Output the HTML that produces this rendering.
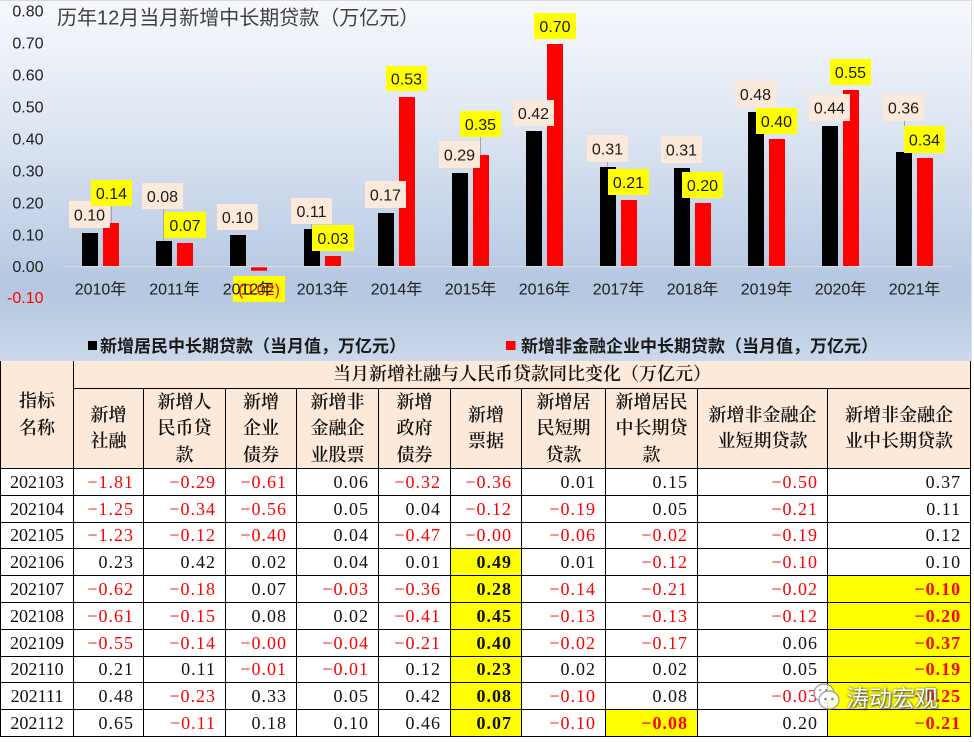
<!DOCTYPE html>
<html>
<head>
<meta charset="utf-8">
<style>
  html,body{margin:0;padding:0;background:#fff;}
  body{width:974px;height:742px;position:relative;overflow:hidden;}
  svg.chart{position:absolute;left:0;top:0;}
  table{position:absolute;left:0;top:361px;border-collapse:collapse;table-layout:fixed;width:970px;}
  td{border:1px solid #000;padding:0 9px 0 0;text-align:right;font-family:"Liberation Serif","Noto Serif CJK SC",serif;font-size:18px;letter-spacing:1px;color:#111;white-space:nowrap;overflow:hidden;height:25.8px;line-height:20px;}
  td.hd{background:#fde9d9;text-align:center;padding:0;font-family:"Liberation Serif","Noto Serif CJK SC",serif;font-weight:600;letter-spacing:0;line-height:26.5px;color:#111;}
  tr.top td{border-top:none;}
  td.dt{text-align:center;padding:0;letter-spacing:0;}
  .r{color:#ff0000;}
  .b{font-weight:bold;}
  .y{background:#ffff00;}
  .wm{position:absolute;left:846px;top:681px;font-family:"Noto Sans CJK SC","WenQuanYi Zen Hei",sans-serif;font-size:23px;line-height:30px;color:#fff;text-shadow:0 0 2px #555,1px 1px 2px #444;letter-spacing:0px;}
  svg.icon{position:absolute;left:812px;top:680px;}
</style>
</head>
<body>
<svg class="chart" width="974" height="361" viewBox="0 0 974 361" xmlns="http://www.w3.org/2000/svg">
  <defs>
    <linearGradient id="bg" x1="0" y1="0" x2="0" y2="1">
      <stop offset="0" stop-color="#f6f8fc"/>
      <stop offset="0.3" stop-color="#e2e9f4"/>
      <stop offset="0.55" stop-color="#cbd8eb"/>
      <stop offset="0.8" stop-color="#b4c7e1"/>
      <stop offset="1" stop-color="#cbd8ea"/>
    </linearGradient>
  </defs>
  <rect x="0" y="0" width="971" height="361" fill="url(#bg)"/>
  <line x1="0" y1="0.5" x2="971" y2="0.5" stroke="#d9d9d9" stroke-width="1"/>
  <line x1="971.5" y1="0" x2="971.5" y2="361" stroke="#e0e0e0" stroke-width="1"/>

  <text x="57" y="24.5" font-family="Liberation Sans, Noto Sans CJK SC, sans-serif" font-size="20" fill="#404040">历年12月当月新增中长期贷款（万亿元）</text>

  <g font-family="Liberation Sans, sans-serif" font-size="16" fill="#1f1f1f" text-anchor="end">
    <text x="43.5" y="16.5">0.80</text>
    <text x="43.5" y="48.5">0.70</text>
    <text x="43.5" y="80.5">0.60</text>
    <text x="43.5" y="112.5">0.50</text>
    <text x="43.5" y="144.5">0.40</text>
    <text x="43.5" y="176.5">0.30</text>
    <text x="43.5" y="208.5">0.20</text>
    <text x="43.5" y="240.5">0.10</text>
    <text x="43.5" y="272">0.00</text>
    <text x="43.5" y="303" fill="#ff0000">-0.10</text>
  </g>

  <g fill="#000">
    <rect x="82" y="233" width="16" height="33"/>
    <rect x="156" y="241" width="16" height="25"/>
    <rect x="230" y="235" width="16" height="31"/>
    <rect x="304" y="229" width="16" height="37"/>
    <rect x="378" y="213" width="16" height="53"/>
    <rect x="452" y="173" width="16" height="93"/>
    <rect x="526" y="131" width="16" height="135"/>
    <rect x="600" y="167" width="16" height="99"/>
    <rect x="674" y="168" width="16" height="98"/>
    <rect x="748" y="112" width="16" height="154"/>
    <rect x="822" y="126" width="16" height="140"/>
    <rect x="896" y="152" width="16" height="114"/>
  </g>
  <g fill="#ff0000">
    <rect x="103" y="223" width="16" height="43"/>
    <rect x="177" y="243" width="16" height="23"/>
    <rect x="251" y="266" width="16" height="4.7"/>
    <rect x="325" y="256" width="16" height="10"/>
    <rect x="399" y="97" width="16" height="169"/>
    <rect x="473" y="155" width="16" height="111"/>
    <rect x="547" y="44" width="16" height="222"/>
    <rect x="621" y="200" width="16" height="66"/>
    <rect x="695" y="203" width="16" height="63"/>
    <rect x="769" y="139" width="16" height="127"/>
    <rect x="843" y="90" width="16" height="176"/>
    <rect x="917" y="158" width="16" height="108"/>
  </g>

  <rect x="63" y="266" width="888" height="1.3" fill="#d9d9d9"/>

  <g stroke="#a6a6a6" stroke-width="1">
    <line x1="111.5" y1="206" x2="111.5" y2="223"/>
    <line x1="163.5" y1="209" x2="163.5" y2="241"/>
    <line x1="311.5" y1="224" x2="311.5" y2="229"/>
    <line x1="480.5" y1="137" x2="480.5" y2="155"/>
    <line x1="607.5" y1="162" x2="607.5" y2="167"/>
    <line x1="904.5" y1="121" x2="904.5" y2="152"/>
  </g>

  <g fill="#fde9d9">
    <rect x="69" y="201" width="41" height="27"/>
    <rect x="142" y="183" width="41" height="26"/>
    <rect x="217" y="204" width="41" height="26"/>
    <rect x="291" y="198" width="41" height="26"/>
    <rect x="365" y="181" width="41" height="27"/>
    <rect x="439" y="141" width="41" height="27"/>
    <rect x="513" y="100" width="41" height="26"/>
    <rect x="587" y="135" width="41" height="27"/>
    <rect x="661" y="136" width="41" height="27"/>
    <rect x="735" y="81" width="41" height="26"/>
    <rect x="809" y="94" width="41" height="27"/>
    <rect x="883" y="94" width="41" height="27"/>
  </g>
  <g font-family="Liberation Sans, sans-serif" font-size="16" fill="#1a1a1a" text-anchor="middle">
    <text x="89.5" y="220.5">0.10</text>
    <text x="162.5" y="202">0.08</text>
    <text x="237.5" y="223">0.10</text>
    <text x="311.5" y="217">0.11</text>
    <text x="385.5" y="200.5">0.17</text>
    <text x="459.5" y="160.5">0.29</text>
    <text x="533.5" y="119">0.42</text>
    <text x="607.5" y="154.5">0.31</text>
    <text x="681.5" y="155.5">0.31</text>
    <text x="755.5" y="100">0.48</text>
    <text x="829.5" y="113.5">0.44</text>
    <text x="903.5" y="113.5">0.36</text>
  </g>

  <g fill="#ffff00">
    <rect x="91" y="180" width="41" height="26"/>
    <rect x="164" y="212" width="42" height="26"/>
    <rect x="233" y="276" width="52" height="26"/>
    <rect x="312" y="225" width="42" height="26"/>
    <rect x="386" y="66" width="41" height="25"/>
    <rect x="460" y="111" width="41" height="26"/>
    <rect x="534" y="13" width="42" height="26"/>
    <rect x="608" y="169" width="41" height="26"/>
    <rect x="682" y="172" width="41" height="26"/>
    <rect x="756" y="108" width="41" height="26"/>
    <rect x="830" y="59" width="41" height="26"/>
    <rect x="904" y="126" width="41" height="27"/>
  </g>
  <g font-family="Liberation Sans, sans-serif" font-size="16" fill="#1a1a1a" text-anchor="middle">
    <text x="111.5" y="199">0.14</text>
    <text x="185" y="231">0.07</text>
    <text x="259" y="295" fill="#ff0000">(0.02)</text>
    <text x="333" y="244">0.03</text>
    <text x="406.5" y="84.5">0.53</text>
    <text x="480.5" y="130">0.35</text>
    <text x="555" y="32">0.70</text>
    <text x="628.5" y="188">0.21</text>
    <text x="702.5" y="191">0.20</text>
    <text x="776.5" y="127">0.40</text>
    <text x="850.5" y="78">0.55</text>
    <text x="924.5" y="145.5">0.34</text>
  </g>

  <g font-family="Liberation Sans, Noto Sans CJK SC, sans-serif" font-size="16" fill="#1f1f1f" text-anchor="middle">
    <text x="100.5" y="294.5">2010年</text>
    <text x="174.5" y="294.5">2011年</text>
    <text x="248.5" y="294.5">2012年</text>
    <text x="322.5" y="294.5">2013年</text>
    <text x="396.5" y="294.5">2014年</text>
    <text x="470.5" y="294.5">2015年</text>
    <text x="544.5" y="294.5">2016年</text>
    <text x="618.5" y="294.5">2017年</text>
    <text x="692.5" y="294.5">2018年</text>
    <text x="766.5" y="294.5">2019年</text>
    <text x="840.5" y="294.5">2020年</text>
    <text x="914.5" y="294.5">2021年</text>
  </g>

  <rect x="88" y="341" width="9" height="9" fill="#000"/>
  <text x="100" y="352" font-family="Liberation Sans, Noto Sans CJK SC, sans-serif" font-size="17" font-weight="bold" fill="#1a1a1a">新增居民中长期贷款（当月值，万亿元）</text>
  <rect x="506" y="341" width="9.5" height="9" fill="#ff0000"/>
  <text x="521" y="352" font-family="Liberation Sans, Noto Sans CJK SC, sans-serif" font-size="17" font-weight="bold" fill="#1a1a1a">新增非金融企业中长期贷款（当月值，万亿元）</text>
</svg>

<table>
  <colgroup>
    <col style="width:73px"><col style="width:70px"><col style="width:82px"><col style="width:71px"><col style="width:82px"><col style="width:72px"><col style="width:71px"><col style="width:84px"><col style="width:92px"><col style="width:130px"><col style="width:143px">
  </colgroup>
  <tr class="top">
    <td class="hd" rowspan="2">指标<br>名称</td>
    <td class="hd" colspan="10" style="height:25.5px">当月新增社融与人民币贷款同比变化（万亿元）</td>
  </tr>
  <tr>
    <td class="hd" style="height:78px">新增<br>社融</td>
    <td class="hd">新增人<br>民币贷<br>款</td>
    <td class="hd">新增<br>企业<br>债券</td>
    <td class="hd">新增非<br>金融企<br>业股票</td>
    <td class="hd">新增<br>政府<br>债券</td>
    <td class="hd">新增<br>票据</td>
    <td class="hd">新增居<br>民短期<br>贷款</td>
    <td class="hd">新增居民<br>中长期贷<br>款</td>
    <td class="hd">新增非金融企<br>业短期贷款</td>
    <td class="hd">新增非金融企<br>业中长期贷款</td>
  </tr>
  <tr>
    <td class="dt">202103</td><td class="r">−1.81</td><td class="r">−0.29</td><td class="r">−0.61</td><td>0.06</td><td class="r">−0.32</td><td class="r">−0.36</td><td>0.01</td><td>0.15</td><td class="r">−0.50</td><td>0.37</td>
  </tr>
  <tr>
    <td class="dt">202104</td><td class="r">−1.25</td><td class="r">−0.34</td><td class="r">−0.56</td><td>0.05</td><td>0.04</td><td class="r">−0.12</td><td class="r">−0.19</td><td>0.05</td><td class="r">−0.21</td><td>0.11</td>
  </tr>
  <tr>
    <td class="dt">202105</td><td class="r">−1.23</td><td class="r">−0.12</td><td class="r">−0.40</td><td>0.04</td><td class="r">−0.47</td><td class="r">−0.00</td><td class="r">−0.06</td><td class="r">−0.02</td><td class="r">−0.19</td><td>0.12</td>
  </tr>
  <tr>
    <td class="dt">202106</td><td>0.23</td><td>0.42</td><td>0.02</td><td>0.04</td><td>0.01</td><td class="y b">0.49</td><td>0.01</td><td class="r">−0.12</td><td class="r">−0.10</td><td>0.10</td>
  </tr>
  <tr>
    <td class="dt">202107</td><td class="r">−0.62</td><td class="r">−0.18</td><td>0.07</td><td class="r">−0.03</td><td class="r">−0.36</td><td class="y b">0.28</td><td class="r">−0.14</td><td class="r">−0.21</td><td class="r">−0.02</td><td class="y b r">−0.10</td>
  </tr>
  <tr>
    <td class="dt">202108</td><td class="r">−0.61</td><td class="r">−0.15</td><td>0.08</td><td>0.02</td><td class="r">−0.41</td><td class="y b">0.45</td><td class="r">−0.13</td><td class="r">−0.13</td><td class="r">−0.12</td><td class="y b r">−0.20</td>
  </tr>
  <tr>
    <td class="dt">202109</td><td class="r">−0.55</td><td class="r">−0.14</td><td class="r">−0.00</td><td class="r">−0.04</td><td class="r">−0.21</td><td class="y b">0.40</td><td class="r">−0.02</td><td class="r">−0.17</td><td>0.06</td><td class="y b r">−0.37</td>
  </tr>
  <tr>
    <td class="dt">202110</td><td>0.21</td><td>0.11</td><td class="r">−0.01</td><td class="r">−0.01</td><td>0.12</td><td class="y b">0.23</td><td>0.02</td><td>0.02</td><td>0.05</td><td class="y b r">−0.19</td>
  </tr>
  <tr>
    <td class="dt">202111</td><td>0.48</td><td class="r">−0.23</td><td>0.33</td><td>0.05</td><td>0.42</td><td class="y b">0.08</td><td class="r">−0.10</td><td>0.08</td><td class="r">−0.03</td><td class="y b r">−0.25</td>
  </tr>
  <tr>
    <td class="dt">202112</td><td>0.65</td><td class="r">−0.11</td><td>0.18</td><td>0.10</td><td>0.46</td><td class="y b">0.07</td><td class="r">−0.10</td><td class="y b r">−0.08</td><td>0.20</td><td class="y b r">−0.21</td>
  </tr>
</table>

<svg class="icon" width="30" height="34" viewBox="0 0 30 34" xmlns="http://www.w3.org/2000/svg">
  <ellipse cx="12" cy="13" rx="10" ry="9" fill="rgba(255,255,255,0.75)" stroke="#9a9a9a" stroke-width="1.2"/>
  <ellipse cx="17" cy="20" rx="10" ry="9" fill="rgba(255,255,255,0.85)" stroke="#9a9a9a" stroke-width="1.2"/>
  <circle cx="13.5" cy="19" r="1.3" fill="#888"/>
  <circle cx="20.5" cy="19" r="1.3" fill="#888"/>
  <circle cx="8" cy="10" r="1.1" fill="#999"/>
  <circle cx="14" cy="10" r="1.1" fill="#999"/>
</svg>
<div class="wm">涛动宏观</div>
</body>
</html>
